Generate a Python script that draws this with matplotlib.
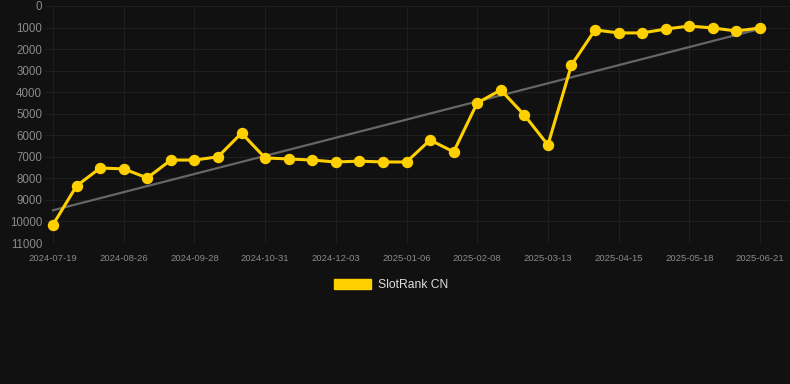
import matplotlib
matplotlib.use("Agg")
import matplotlib.pyplot as plt
import matplotlib.patches as mpatches
import numpy as np

dates = ["2024-07-19", "2024-07-31", "2024-08-13", "2024-08-26", "2024-09-06",
         "2024-09-17", "2024-09-28", "2024-10-09", "2024-10-20", "2024-10-31",
         "2024-11-11", "2024-11-22", "2024-12-03", "2024-12-14", "2024-12-25",
         "2025-01-06", "2025-01-17", "2025-01-28", "2025-02-08", "2025-02-19",
         "2025-03-02", "2025-03-13", "2025-03-24", "2025-04-04", "2025-04-15",
         "2025-04-26", "2025-05-07", "2025-05-18", "2025-05-29", "2025-06-09",
         "2025-06-21"]
ranks = [10150, 8350, 7520, 7560, 7980, 7150, 7150, 7000, 5900, 7050,
         7100, 7150, 7240, 7200, 7240, 7240, 6220, 6770, 4500, 3900,
         5060, 6450, 2740, 1110, 1250, 1250, 1070, 930, 1020, 1160, 1020]
tick_labels = ["2024-07-19", "2024-08-26", "2024-09-28", "2024-10-31", "2024-12-03",
               "2025-01-06", "2025-02-08", "2025-03-13", "2025-04-15", "2025-05-18",
               "2025-06-21"]
y_ticks = [0, 1000, 2000, 3000, 4000, 5000, 6000, 7000, 8000, 9000, 10000, 11000]
series_name = "SlotRank CN"

bg = "#111111"
gold = "#FFD000"

W, H = 790, 384
fig = plt.figure(figsize=(W / 100, H / 100), dpi=100, facecolor=bg)
ax = fig.add_axes([45 / W, 1 - 243 / H, (790 - 45) / W, (243 - 6) / H])
ax.set_facecolor(bg)

xi = np.arange(len(dates))

# trend line (linear fit)
coef = np.polyfit(xi, ranks, 1)
ax.plot(xi[[0, -1]], np.polyval(coef, xi[[0, -1]]), color="#666666", lw=1.6, zorder=2)

ax.plot(xi, ranks, color=gold, lw=2.2, marker="o", markersize=7.2,
        markerfacecolor=gold, markeredgecolor=gold, zorder=3)

ax.set_ylim(11000, 0)
ax.set_yticks(y_ticks)
ax.set_yticklabels([str(v) for v in y_ticks])

px_per_step = (760 - 53) / (len(dates) - 1)
ax.set_xlim(0 - 8 / px_per_step, (790 - 53) / px_per_step)
tick_pos = [dates.index(t) for t in tick_labels]
ax.set_xticks(tick_pos)
ax.set_xticklabels(tick_labels)

ax.grid(True, color="#1f1f1f", lw=0.8)
ax.set_axisbelow(True)
for s in ax.spines.values():
    s.set_visible(False)
ax.tick_params(axis="both", length=0, colors="#8a8a8a")
ax.tick_params(axis="y", labelsize=8.3, pad=2)
ax.tick_params(axis="x", labelsize=6.8, pad=8)
for lab in ax.get_xticklabels() + ax.get_yticklabels():
    lab.set_fontfamily("Liberation Sans")

handle = mpatches.Patch(color=gold, label=series_name)
leg = fig.legend(handles=[handle], loc="center", bbox_to_anchor=(391 / W, 1 - 285 / H),
                 frameon=False, handlelength=3.1, handleheight=0.95, handletextpad=0.55,
                 prop={"family": "Liberation Sans", "size": 8.7})
for t in leg.get_texts():
    t.set_color("#dddddd")

fig.savefig("out.png", dpi=100, facecolor=bg)
